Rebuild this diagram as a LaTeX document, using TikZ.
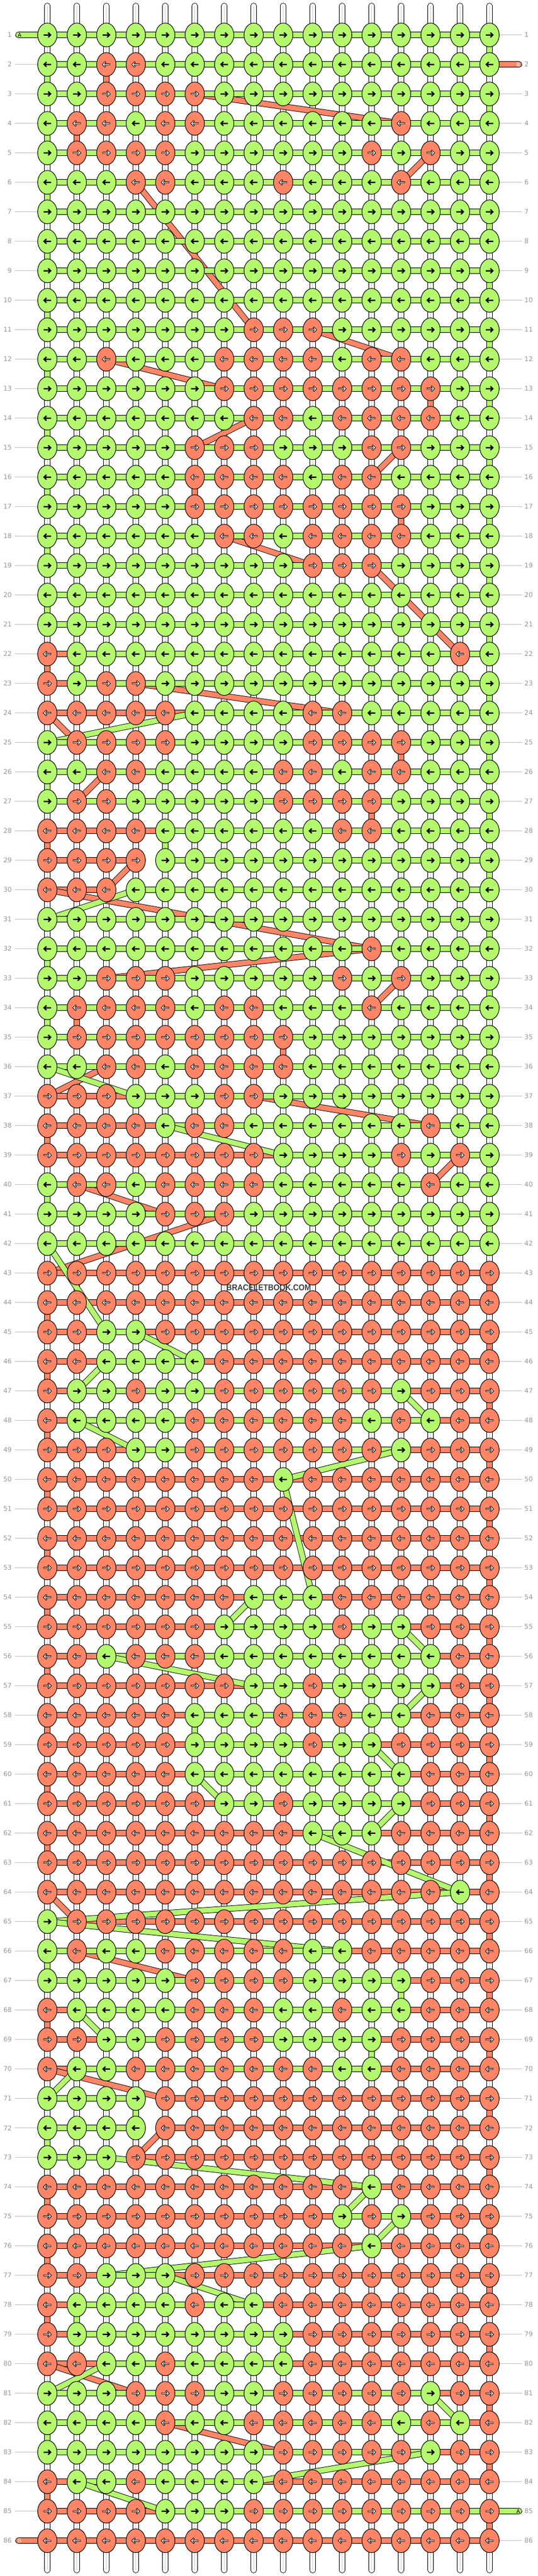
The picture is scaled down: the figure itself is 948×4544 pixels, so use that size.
\documentclass[tikz,border=0pt]{standalone}
\usepackage{fontspec}
\newfontfamily\labelfont{DejaVu Sans}
\newfontfamily\markfont{Liberation Sans}
\usetikzlibrary{shapes.geometric}
\definecolor{threadA}{RGB}{180,248,110}
\definecolor{threadB}{RGB}{255,133,102}
\definecolor{numgray}{RGB}{150,150,150}
\definecolor{guidegray}{RGB}{192,192,192}
\definecolor{markgray}{RGB}{60,60,60}

% knot colours row by row: 0 = thread A (green), 1 = thread B (salmon)
\newcommand\knotrow[2]{\expandafter\gdef\csname knotrow#1\endcsname{#2}}
\knotrow{1}{0,0,0,0,0,0,0,0,0,0,0,0,0,0,0,0}
\knotrow{2}{0,0,1,1,0,0,0,0,0,0,0,0,0,0,0,0}
\knotrow{3}{0,0,1,1,1,1,0,0,0,0,0,0,0,0,0,0}
\knotrow{4}{0,1,1,0,1,1,0,0,0,0,0,0,1,0,0,0}
\knotrow{5}{0,1,1,1,1,0,0,0,0,0,0,1,0,1,0,0}
\knotrow{6}{0,0,0,1,1,0,0,0,1,0,0,0,1,0,0,0}
\knotrow{7}{0,0,0,0,0,0,0,0,0,0,0,0,0,0,0,0}
\knotrow{8}{0,0,0,0,0,0,0,0,0,0,0,0,0,0,0,0}
\knotrow{9}{0,0,0,0,0,0,0,0,0,0,0,0,0,0,0,0}
\knotrow{10}{0,0,0,0,0,0,0,0,0,0,0,0,0,0,0,0}
\knotrow{11}{0,0,0,0,0,0,0,1,1,1,0,0,0,0,0,0}
\knotrow{12}{0,0,1,0,0,0,1,1,1,1,0,1,1,0,0,0}
\knotrow{13}{0,0,0,0,0,0,1,1,1,1,1,1,1,1,0,0}
\knotrow{14}{0,0,0,0,0,0,0,1,1,0,1,1,1,1,0,0}
\knotrow{15}{0,0,0,0,0,1,1,1,0,0,0,1,1,0,0,0}
\knotrow{16}{0,0,0,0,0,1,1,1,1,0,1,1,0,0,0,0}
\knotrow{17}{0,0,0,0,0,1,1,1,1,1,1,1,1,0,0,0}
\knotrow{18}{0,0,0,0,0,0,1,1,0,1,1,1,1,0,0,0}
\knotrow{19}{0,0,0,0,0,0,0,0,0,1,1,1,0,0,0,0}
\knotrow{20}{0,0,0,0,0,0,0,0,0,0,0,0,0,0,0,0}
\knotrow{21}{0,0,0,0,0,0,0,0,0,0,0,0,0,0,0,0}
\knotrow{22}{1,0,0,0,0,0,0,0,0,0,0,0,0,0,1,0}
\knotrow{23}{1,0,1,1,0,0,0,0,0,0,0,0,0,0,0,0}
\knotrow{24}{1,1,1,1,1,0,0,0,0,1,1,0,0,0,0,0}
\knotrow{25}{0,1,1,1,1,0,0,0,0,1,1,1,1,0,0,0}
\knotrow{26}{0,0,1,1,0,0,0,0,1,1,0,1,1,0,0,0}
\knotrow{27}{0,1,1,0,0,0,0,0,1,1,1,1,0,0,0,0}
\knotrow{28}{1,1,1,1,0,0,0,0,0,0,1,1,0,0,0,0}
\knotrow{29}{1,1,1,1,0,0,0,0,0,0,0,0,0,0,0,0}
\knotrow{30}{1,1,1,0,0,0,0,0,0,0,0,0,0,0,0,0}
\knotrow{31}{0,0,0,0,0,0,0,0,0,0,0,0,0,0,0,0}
\knotrow{32}{0,0,0,0,0,0,0,0,0,0,0,1,0,0,0,0}
\knotrow{33}{0,0,1,1,1,0,0,0,0,0,1,0,1,0,0,0}
\knotrow{34}{0,1,1,1,1,0,1,1,0,0,0,1,0,0,0,0}
\knotrow{35}{0,1,1,1,1,1,1,1,1,0,0,0,0,0,0,0}
\knotrow{36}{0,0,1,1,0,1,1,1,1,0,0,0,0,0,0,0}
\knotrow{37}{1,1,1,0,0,0,1,1,0,0,0,0,0,0,0,0}
\knotrow{38}{1,1,1,1,0,1,1,0,0,0,0,0,0,1,0,0}
\knotrow{39}{1,1,1,1,1,1,1,1,0,0,0,0,1,0,1,0}
\knotrow{40}{0,1,1,0,1,1,1,1,0,0,0,0,0,1,0,0}
\knotrow{41}{0,0,0,0,1,1,1,0,0,0,0,0,0,0,0,0}
\knotrow{42}{0,0,0,0,0,0,0,0,0,0,0,0,0,0,0,0}
\knotrow{43}{1,1,1,1,1,1,1,1,1,1,1,1,1,1,1,1}
\knotrow{44}{1,1,1,1,1,1,1,1,1,1,1,1,1,1,1,1}
\knotrow{45}{1,1,0,0,1,1,1,1,1,1,1,1,1,1,1,1}
\knotrow{46}{1,1,0,0,0,0,1,1,1,1,1,1,1,1,1,1}
\knotrow{47}{1,0,0,1,0,0,1,1,1,1,1,1,0,1,1,1}
\knotrow{48}{1,0,0,0,0,1,1,1,1,1,1,0,1,0,1,1}
\knotrow{49}{1,1,1,0,0,1,1,1,1,1,1,1,0,1,1,1}
\knotrow{50}{1,1,1,1,1,1,1,1,0,1,1,1,1,1,1,1}
\knotrow{51}{1,1,1,1,1,1,1,1,1,1,1,1,1,1,1,1}
\knotrow{52}{1,1,1,1,1,1,1,1,1,1,1,1,1,1,1,1}
\knotrow{53}{1,1,1,1,1,1,1,1,1,1,1,1,1,1,1,1}
\knotrow{54}{1,1,1,1,1,1,1,0,0,0,1,1,1,1,1,1}
\knotrow{55}{1,1,1,1,1,1,0,0,0,0,1,0,0,1,1,1}
\knotrow{56}{1,1,0,1,1,1,0,0,0,0,0,0,0,0,1,1}
\knotrow{57}{1,1,1,1,1,1,1,0,0,1,0,0,0,0,1,1}
\knotrow{58}{1,1,1,1,1,0,0,0,1,1,1,0,0,1,1,1}
\knotrow{59}{1,1,1,1,1,0,0,0,0,1,0,0,1,1,1,1}
\knotrow{60}{1,1,1,1,1,0,0,0,0,0,0,0,0,1,1,1}
\knotrow{61}{1,1,1,1,1,1,0,0,1,0,0,0,0,1,1,1}
\knotrow{62}{1,1,1,1,1,1,1,1,1,0,0,0,1,1,1,1}
\knotrow{63}{1,1,1,1,1,1,1,1,1,1,1,1,1,1,1,1}
\knotrow{64}{1,1,1,1,1,1,1,1,1,1,1,1,1,1,0,1}
\knotrow{65}{0,1,1,1,1,1,1,1,1,1,1,1,1,1,1,1}
\knotrow{66}{0,1,0,0,1,1,1,1,1,0,0,1,1,1,1,1}
\knotrow{67}{0,0,0,0,0,1,1,1,1,0,0,0,0,1,1,1}
\knotrow{68}{1,0,0,0,0,1,1,1,0,0,1,0,0,1,1,1}
\knotrow{69}{1,1,0,0,1,1,1,1,0,0,0,0,1,1,1,1}
\knotrow{70}{1,0,0,1,1,1,1,1,1,1,0,0,1,1,1,1}
\knotrow{71}{0,0,0,0,1,1,1,1,1,1,1,1,1,1,1,1}
\knotrow{72}{0,0,0,0,1,1,1,1,1,1,1,1,1,1,1,1}
\knotrow{73}{0,0,0,1,1,1,1,1,1,1,1,1,1,1,1,1}
\knotrow{74}{1,1,1,1,1,1,1,1,1,1,1,0,1,1,1,1}
\knotrow{75}{1,1,1,1,1,1,1,1,1,1,0,1,0,1,1,1}
\knotrow{76}{1,1,1,1,1,1,1,1,1,1,1,0,1,1,1,1}
\knotrow{77}{1,1,0,0,0,1,1,1,1,1,1,1,1,1,1,1}
\knotrow{78}{1,0,0,0,0,1,0,0,1,1,1,1,1,1,1,1}
\knotrow{79}{1,0,0,0,0,0,0,0,0,1,1,1,1,1,1,1}
\knotrow{80}{1,1,0,0,1,0,0,0,0,1,1,1,1,1,1,1}
\knotrow{81}{0,0,0,1,1,1,0,0,1,1,1,1,1,0,1,1}
\knotrow{82}{0,0,0,0,1,0,0,1,1,1,1,1,0,1,0,1}
\knotrow{83}{0,0,0,0,0,0,0,0,1,1,1,1,1,0,1,1}
\knotrow{84}{1,0,0,1,0,0,0,0,1,1,1,1,1,1,1,1}
\knotrow{85}{1,1,1,1,0,0,0,1,1,1,1,1,1,1,1,1}
\knotrow{86}{1,1,1,1,1,1,1,1,1,1,1,1,1,1,1,1}

\newcommand\getrow[1]{\expandafter\let\expandafter\rowdata\csname knotrow#1\endcsname}

% path of one thread: along each row, then on to its first knot in the next row
\newcommand\threadpath[2]{%
  \gdef\lastrw{0}\gdef\lastcl{0}%
  \foreach \rw in {1,...,86} {%
    \getrow{\rw}%
    \gdef\mincl{99}\gdef\maxcl{0}%
    \foreach \kval [count=\cl] in \rowdata {%
      \ifnum\kval=#1\relax
        \ifnum\cl<\mincl\relax\xdef\mincl{\cl}\fi
        \ifnum\cl>\maxcl\relax\xdef\maxcl{\cl}\fi
      \fi
    }%
    \ifnum\maxcl>0\relax
      \ifodd\rw\relax
        \xdef\firstcl{\mincl}\xdef\endcl{\maxcl}%
      \else
        \xdef\firstcl{\maxcl}\xdef\endcl{\mincl}%
      \fi
      \ifnum\lastrw>0\relax
        \draw[#2] (k-\lastrw-\lastcl) -- (k-\rw-\firstcl);
      \fi
      \ifnum\mincl<\maxcl\relax
        \draw[#2] (k-\rw-\mincl) -- (k-\rw-\maxcl);
      \fi
      \xdef\lastrw{\rw}\xdef\lastcl{\endcl}%
    \fi
  }%
}

\begin{document}
\begin{tikzpicture}[x=1pt,y=-1pt,line join=round,
  strand/.style={line width=0.9pt,double=white,double distance=9pt,line cap=round},
  strandmid/.style={draw=gray!40,line width=0.8pt},
  thrA/.style={line width=0.9pt,double=threadA,double distance=9pt},
  thrB/.style={line width=0.9pt,double=threadB,double distance=9pt},
  stubA/.style={thrA,line cap=round},
  stubB/.style={thrB,line cap=round},
  knotA/.style={ellipse,draw=black,line width=1pt,fill=threadA,minimum width=34pt,minimum height=42pt,inner sep=0pt},
  knotB/.style={knotA,fill=threadB},
  arrowA/.style={fill=black},
  arrowB/.style={fill=white,draw=black,line width=0.8pt,line join=miter},
  knotarrow/.pic={
    \path[pic actions] (-6.5,-1.1) -- (3.1,-1.1) -- (0.74,-3.44) -- (2.3,-5) -- (7.3,0)
      -- (2.3,5) -- (0.74,3.44) -- (3.1,1.1) -- (-6.5,1.1) -- cycle;},
  rowlabel/.style={text=numgray,inner sep=0pt,font=\labelfont\fontsize{11.5}{12}\selectfont},
  guide/.style={draw=guidegray,line width=0.9pt},
  stubtext/.style={inner sep=0pt,font=\labelfont\fontsize{9.5}{10}\selectfont},
  watermark/.style={text=markgray,inner sep=0pt,font=\markfont\bfseries\fontsize{15}{15}\selectfont}]
\fill[white] (0,0) rectangle (948,4544);
\useasboundingbox (0,0) rectangle (948,4544);

% knot positions
\foreach \rw in {1,...,86} {
  \pgfmathsetmacro\ky{61.7+52*(\rw-1)}
  \foreach \cl in {1,...,16} {
    \pgfmathsetmacro\kx{83.5+52*(\cl-1)}
    \coordinate (k-\rw-\cl) at (\kx,\ky);
  }
}

% the sixteen base strings
\foreach \cl in {1,...,16} {
  \pgfmathsetmacro\kx{83.5+52*(\cl-1)}
  \coordinate (top-\cl) at (\kx,10.5);
  \coordinate (bot-\cl) at (\kx,4533.5);
  \draw[strand] (top-\cl) -- (bot-\cl);
  \draw[strandmid] (top-\cl) -- (bot-\cl);
}

% thread B below, thread A on top
\coordinate (startB) at (915.5,113.7);
\coordinate (endB) at (32.5,4481.7);
\draw[stubB] (startB) -- (k-2-4);
\threadpath{1}{thrB}
\draw[stubB] (k-86-1) -- (endB);

\coordinate (startA) at (32.5,61.7);
\coordinate (endA) at (915.5,4429.7);
\draw[stubA] (startA) -- (k-1-1);
\threadpath{0}{thrA}
\draw[stubA] (k-85-7) -- (endA);

\node[stubtext] (tagA1) at (34.5,61.7) {A};
\node[stubtext,text=white] (tagB2) at (914,113.7) {B};
\node[stubtext] (tagA85) at (914,4429.7) {A};
\node[stubtext,text=white] (tagB86) at (34.5,4481.7) {B};

% knots
\foreach \rw in {1,...,86} {
  \getrow{\rw}
  \ifodd\rw\relax\def\dir{1}\else\def\dir{-1}\fi
  \foreach \kval [count=\cl] in \rowdata {
    \ifnum\kval=0\relax
      \node[knotA] (n-\rw-\cl) at (k-\rw-\cl) {};
      \pic[arrowA,xscale=\dir] at (n-\rw-\cl.center) {knotarrow};
    \else
      \node[knotB] (n-\rw-\cl) at (k-\rw-\cl) {};
      \pic[arrowB,xscale=\dir] at (n-\rw-\cl.center) {knotarrow};
    \fi
  }
}

% row numbers
\foreach \rw in {1,...,86} {
  \pgfmathsetmacro\ky{61.7+52*(\rw-1)}
  \node[rowlabel,anchor=east] (ll-\rw) at (21,\ky) {\rw};
  \node[rowlabel,anchor=west] (rl-\rw) at (925,\ky) {\rw};
}
\foreach \rw in {2,...,85}
  \draw[guide] ([xshift=5pt]ll-\rw.east) -- (n-\rw-1.west);
\foreach \rw in {1,3,4,...,84,86}
  \draw[guide] (n-\rw-16.east) -- ([xshift=-4pt]rl-\rw.west);

\node[watermark] (mark) at (474,2271.5) {\scalebox{0.9}[1]{BRACELETBOOK.COM}};
\end{tikzpicture}
\end{document}
